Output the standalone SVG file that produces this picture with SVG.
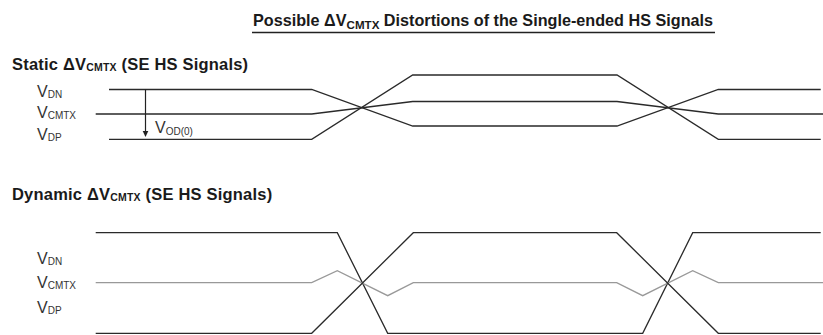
<svg xmlns="http://www.w3.org/2000/svg" width="823" height="335" viewBox="0 0 823 335">
<style>
text{font-family:"Liberation Sans",Arial,sans-serif;fill:#1a1a1a}
.title{font-size:16.2px;font-weight:bold}
.head{font-size:16.5px;font-weight:bold;letter-spacing:0.2px}
.tsub{font-size:11.6px}
.hsub{font-size:10.5px}
.lbl{font-size:16px;fill:#333}
.lsub{font-size:10px}
.sig{fill:none;stroke:#2a2a2a;stroke-width:1.3;stroke-linejoin:miter}
.gray{stroke:#999}
</style>
<rect width="823" height="335" fill="#fff"/>
<g id="title">
<text class="title" x="253" y="26">Possible ΔV<tspan class="tsub" dy="2.5">CMTX</tspan><tspan dy="-2.5"> Distortions of the Single-ended HS Signals</tspan></text>
<line x1="252" y1="32.5" x2="715" y2="32.5" stroke="#222" stroke-width="1.3"/>
</g>
<g id="static">
<text class="head" x="12" y="70">Static ΔV<tspan class="hsub" dy="1">CMTX</tspan><tspan dy="-1"> (SE HS Signals)</tspan></text>
<text class="lbl" x="37" y="96.5">V<tspan class="lsub" dy="1">DN</tspan></text>
<text class="lbl" x="37" y="118">V<tspan class="lsub" dy="1">CMTX</tspan></text>
<text class="lbl" x="37" y="139.5">V<tspan class="lsub" dy="1">DP</tspan></text>
<text class="lbl" x="155" y="133">V<tspan class="lsub" dy="2">OD(0)</tspan></text>
</g>
<g id="connectors">
<path class="sig" d="M109 89.5 H311.7 L412.7 126 H617 L718.3 89.5 H820.7"/>
<path class="sig" d="M95.7 114 H311.7 L412.7 101.5 H617 L718.3 114 H823"/>
<path class="sig" d="M109 139.3 H311.7 L412.7 75 H617 L718.3 139.3 H820.7"/>
<line x1="145.5" y1="89.5" x2="145.5" y2="132" stroke="#222" stroke-width="1.2"/>
<polygon points="142.7,131 148.3,131 145.5,137" fill="#222"/>
<path class="sig" d="M95.7 232.7 H337.3 L387.7 333.3 H642.7 L692.7 232.7 H820.7"/>
<path class="sig gray" d="M95.7 282.7 H311.7 L337.3 270.7 L387.7 295.7 L413.3 282.7 H616.7 L642.7 295.7 L692.7 270.7 L718.3 282.7 H823"/>
<path class="sig" d="M95.7 333.3 H311.7 L413.3 232.7 H616.7 L718.3 333.3 H820.7"/>
</g>
<g id="dynamic">
<text class="head" x="12" y="200.3">Dynamic ΔV<tspan class="hsub" dy="1">CMTX</tspan><tspan dy="-1"> (SE HS Signals)</tspan></text>
<text class="lbl" x="37" y="263.5">V<tspan class="lsub" dy="1">DN</tspan></text>
<text class="lbl" x="37" y="288">V<tspan class="lsub" dy="1">CMTX</tspan></text>
<text class="lbl" x="37" y="313">V<tspan class="lsub" dy="1">DP</tspan></text>
</g>
</svg>
